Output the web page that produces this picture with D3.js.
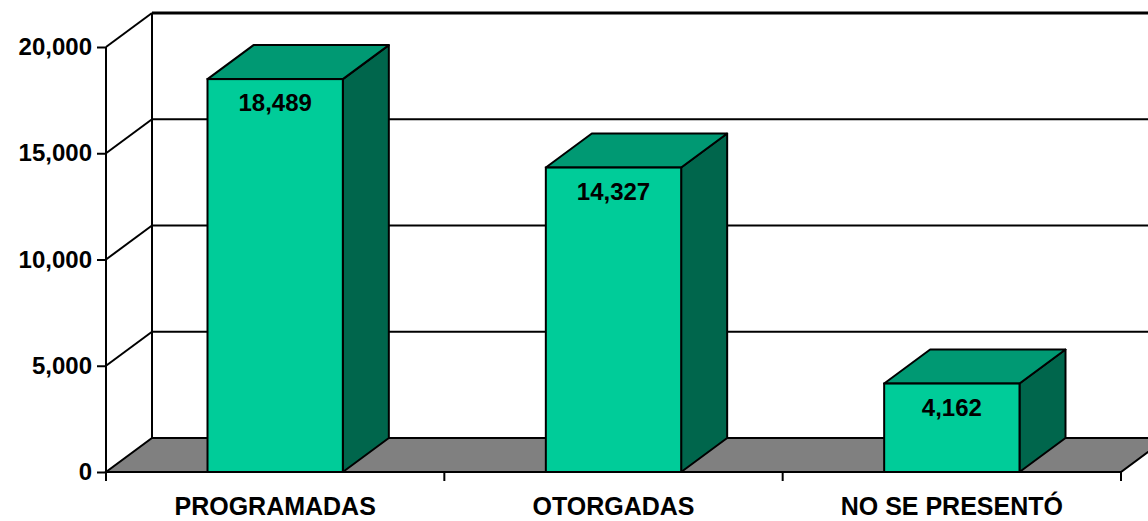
<!DOCTYPE html>
<html>
<head>
<meta charset="utf-8">
<script src="https://cdn.jsdelivr.net/npm/d3@7"></script>
<style>
  body { margin: 0; background: #fff; }
  text { font-family: "Liberation Sans", Arial, sans-serif; font-weight: bold; fill: #000; }
</style>
</head>
<body>
<script>
// data
const categories = ["PROGRAMADAS", "OTORGADAS", "NO SE PRESENTÓ"];
const values = [18489, 14327, 4162];
const yTicks = [0, 5000, 10000, 15000, 20000];

const width = 1148, height = 521;
const depthX = 46, depthY = -34;   // 3d offset of back wall

const svg = d3.select("body").append("svg")
    .attr("width", width)
    .attr("height", height);

const y = d3.scaleLinear().domain([0, 20000]).range([472, 47]);
const x = d3.scaleBand().domain(categories).range([106, 1121]);
const barW = x.bandwidth() * 0.4;
const fmt = d3.format(",");

// back wall gridlines
svg.selectAll("line.grid")
  .data(yTicks.slice(1)).enter()
  .append("line")
  .attr("class", "grid")
  .attr("x1", 106 + depthX).attr("x2", width + 5)
  .attr("y1", d => y(d) + depthY).attr("y2", d => y(d) + depthY)
  .attr("stroke", "#000")
  .attr("stroke-width", d => d === 20000 ? 3 : 2);

// side wall diagonals
svg.selectAll("line.diag")
  .data(yTicks.slice(1)).enter()
  .append("line")
  .attr("x1", 106).attr("y1", d => y(d))
  .attr("x2", 106 + depthX).attr("y2", d => y(d) + depthY)
  .attr("stroke", "#000").attr("stroke-width", 2);

// back wall left edge
svg.append("line")
  .attr("x1", 106 + depthX).attr("x2", 106 + depthX)
  .attr("y1", y(0) + depthY).attr("y2", y(20000) + depthY)
  .attr("stroke", "#000").attr("stroke-width", 2);

// floor
const x0 = x.range()[0], x1 = x.range()[1];
svg.append("path")
  .attr("d", `M${x0},${y(0)}L${x1},${y(0)}L${x1 + depthX},${y(0) + depthY}L${x0 + depthX},${y(0) + depthY}Z`)
  .attr("fill", "#808080")
  .attr("stroke", "#000").attr("stroke-width", 2);

// bars
const bars = svg.selectAll("g.bar")
  .data(values).enter()
  .append("g")
  .attr("class", "bar");

const bx = (d, i) => x(categories[i]) + (x.bandwidth() - barW) / 2;

bars.append("path") // side
  .attr("d", (d, i) => {
    const l = bx(d, i) + barW;
    return `M${l},${y(0)}L${l},${y(d)}L${l + depthX},${y(d) + depthY}L${l + depthX},${y(0) + depthY}Z`;
  })
  .attr("fill", "#00664c").attr("stroke", "#000").attr("stroke-width", 2)
  .attr("stroke-linejoin", "round");

bars.append("path") // top
  .attr("d", (d, i) => {
    const l = bx(d, i);
    return `M${l},${y(d)}L${l + barW},${y(d)}L${l + barW + depthX},${y(d) + depthY}L${l + depthX},${y(d) + depthY}Z`;
  })
  .attr("fill", "#009973").attr("stroke", "#000").attr("stroke-width", 2)
  .attr("stroke-linejoin", "round");

bars.append("rect") // front
  .attr("x", bx)
  .attr("y", d => y(d))
  .attr("width", barW)
  .attr("height", d => y(0) - y(d))
  .attr("fill", "#00cc99").attr("stroke", "#000").attr("stroke-width", 2);

bars.append("text")
  .attr("x", (d, i) => bx(d, i) + barW / 2)
  .attr("y", d => y(d) + 32)
  .attr("text-anchor", "middle")
  .style("font-size", "24px")
  .text(d => fmt(d));

// y axis
const yAxis = svg.append("g")
  .attr("transform", "translate(106,0)")
  .call(d3.axisLeft(y).tickValues(yTicks).tickSize(9).tickPadding(5).tickFormat(fmt));
yAxis.select(".domain").remove();
yAxis.selectAll("line").attr("stroke-width", 2);
yAxis.selectAll("text").style("font-size", "24px").attr("font-family", null);
svg.append("line")
  .attr("x1", 106).attr("x2", 106)
  .attr("y1", y(20000)).attr("y2", y(0) + 9)
  .attr("stroke", "#000").attr("stroke-width", 2);

// x axis ticks at band edges
const edges = categories.map(c => x(c)).concat([x1]);
svg.selectAll("line.xt")
  .data(edges).enter()
  .append("line")
  .attr("x1", d => d).attr("x2", d => d)
  .attr("y1", y(0)).attr("y2", y(0) + 9)
  .attr("stroke", "#000").attr("stroke-width", 2);

svg.selectAll("text.cat")
  .data(categories).enter()
  .append("text")
  .attr("x", d => x(d) + x.bandwidth() / 2)
  .attr("y", 515)
  .attr("text-anchor", "middle")
  .style("font-size", "25px")
  .text(d => d);
</script>
</body>
</html>
